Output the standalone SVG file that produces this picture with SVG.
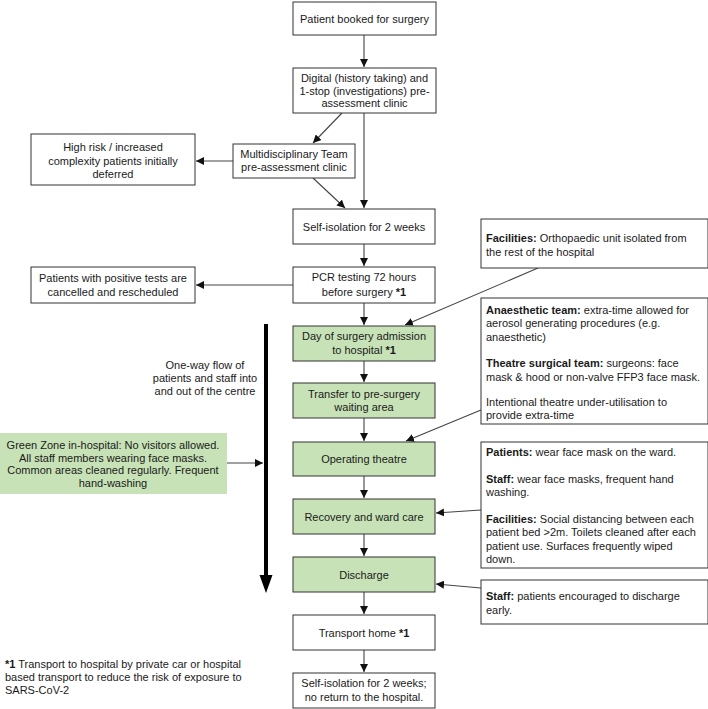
<svg xmlns="http://www.w3.org/2000/svg" width="708" height="709" viewBox="0 0 708 709">
<defs>
<style>
text{font-family:"Liberation Sans",Arial,sans-serif;font-size:11px;fill:#1a1a1a}
.c{text-anchor:middle}
.b{font-weight:bold}
.box{fill:#fff;stroke:#333;stroke-width:1}
.g{fill:#c8e2b7;stroke:#333;stroke-width:1}
.gz{fill:#c8e2b7;stroke:none}
.con{stroke:#444;stroke-width:1.1;fill:none;marker-end:url(#ah)}
</style>
<marker id="ah" markerUnits="userSpaceOnUse" markerWidth="9" markerHeight="8" refX="8" refY="4" orient="auto">
<path d="M0,0 L8,4 L0,8 Z" fill="#111"/>
</marker>
</defs>
<rect width="708" height="709" fill="#fff"/>

<g id="connectors">
<line class="con" x1="364" y1="35" x2="364" y2="67"/>
<line class="con" x1="342" y1="113" x2="313" y2="143"/>
<line class="con" x1="364" y1="113" x2="364" y2="208"/>
<line class="con" x1="233" y1="161" x2="196" y2="161"/>
<line class="con" x1="313" y1="178" x2="345" y2="208"/>
<line class="con" x1="364" y1="244" x2="364" y2="266"/>
<line class="con" x1="293" y1="285" x2="196" y2="285"/>
<line class="con" x1="364" y1="303" x2="364" y2="325"/>
<line class="con" x1="538" y1="268" x2="405" y2="325"/>
<line class="con" x1="364" y1="361" x2="364" y2="382"/>
<line class="con" x1="364" y1="418" x2="364" y2="441"/>
<line class="con" x1="481" y1="410" x2="406" y2="441"/>
<line class="con" x1="364" y1="476" x2="364" y2="498"/>
<line class="con" x1="481" y1="510" x2="436" y2="513"/>
<line class="con" x1="364" y1="534" x2="364" y2="556"/>
<line class="con" x1="481" y1="588" x2="436" y2="584"/>
<line class="con" x1="364" y1="592" x2="364" y2="614"/>
<line class="con" x1="364" y1="650" x2="364" y2="672"/>
<line class="con" x1="227" y1="463" x2="263" y2="463"/>
<line x1="266" y1="324" x2="266" y2="577" stroke="#000" stroke-width="4"/>
<path d="M259.5,575 L272.5,575 L266,593 Z" fill="#000"/>
</g>

<g id="n1"><rect class="box" x="293" y="2" width="143" height="33"/>
<text class="c" x="364.5" y="22.5">Patient booked for surgery</text></g>

<g id="n2"><rect class="box" x="293" y="68" width="143" height="45"/>
<text class="c" x="364.5" y="82">Digital (history taking) and</text>
<text class="c" x="364.5" y="94.7">1-stop (investigations) pre-</text>
<text class="c" x="364.5" y="107.3">assessment clinic</text></g>

<g id="n3"><rect class="box" x="233" y="144" width="122" height="34"/>
<text class="c" x="294" y="158">Multidisciplinary Team</text>
<text class="c" x="294" y="171.3">pre-assessment clinic</text></g>

<g id="n4"><rect class="box" x="31" y="134" width="164" height="51"/>
<text class="c" x="113" y="151.3">High risk / increased</text>
<text class="c" x="113" y="164.7">complexity patients initially</text>
<text class="c" x="113" y="178">deferred</text></g>

<g id="n5"><rect class="box" x="293" y="209" width="142" height="35"/>
<text class="c" x="364" y="231">Self-isolation for 2 weeks</text></g>

<g id="n6"><rect class="box" x="293" y="267" width="142" height="36"/>
<text class="c" x="364" y="281.3">PCR testing 72 hours</text>
<text class="c" x="364" y="295.7">before surgery <tspan class="b">*1</tspan></text></g>

<g id="n7"><rect class="box" x="31" y="267" width="164" height="36"/>
<text class="c" x="113" y="282">Patients with positive tests are</text>
<text class="c" x="113" y="295.7">cancelled and rescheduled</text></g>

<g id="n8"><rect class="g" x="293" y="326" width="142" height="35"/>
<text class="c" x="364" y="340">Day of surgery admission</text>
<text class="c" x="364" y="354">to hospital <tspan class="b">*1</tspan></text></g>

<g id="n9"><rect class="g" x="293" y="383" width="142" height="35"/>
<text class="c" x="364" y="398">Transfer to pre-surgery</text>
<text class="c" x="364" y="411">waiting area</text></g>

<g id="n10"><rect class="g" x="293" y="442" width="142" height="34"/>
<text class="c" x="364" y="463">Operating theatre</text></g>

<g id="n11"><rect class="g" x="293" y="499" width="142" height="35"/>
<text class="c" x="364" y="520.5">Recovery and ward care</text></g>

<g id="n12"><rect class="g" x="293" y="557" width="142" height="35"/>
<text class="c" x="364" y="578.5">Discharge</text></g>

<g id="n13"><rect class="box" x="293" y="615" width="142" height="35"/>
<text class="c" x="364" y="637">Transport home <tspan class="b">*1</tspan></text></g>

<g id="n14"><rect class="box" x="293" y="673" width="142" height="35"/>
<text class="c" x="364" y="687">Self-isolation for 2 weeks;</text>
<text class="c" x="364" y="701">no return to the hospital.</text></g>

<g id="greenzone"><rect class="gz" x="0" y="433" width="227" height="61"/>
<text class="c" x="113" y="449">Green Zone in-hospital: No visitors allowed.</text>
<text class="c" x="113" y="461.6">All staff members wearing face masks.</text>
<text class="c" x="113" y="474">Common areas cleaned regularly. Frequent</text>
<text class="c" x="113" y="486.6">hand-washing</text></g>

<g id="oneway">
<text class="c" x="205" y="369">One-way flow of</text>
<text class="c" x="205" y="382.3">patients and staff into</text>
<text class="c" x="205" y="394.7">and out of the centre</text></g>

<g id="facilities"><rect class="box" x="481" y="219" width="227" height="49"/>
<text x="486" y="242"><tspan class="b">Facilities:</tspan> Orthopaedic unit isolated from</text>
<text x="486" y="255.7">the rest of the hospital</text></g>

<g id="anaesthetic"><rect class="box" x="481" y="298" width="227" height="126"/>
<text x="486" y="314"><tspan class="b">Anaesthetic team:</tspan> extra-time allowed for</text>
<text x="486" y="327.3">aerosol generating procedures (e.g.</text>
<text x="486" y="340.7">anaesthetic)</text>
<text x="486" y="367.3"><tspan class="b">Theatre surgical team:</tspan> surgeons: face</text>
<text x="486" y="380.7">mask &amp; hood or non-valve FFP3 face mask.</text>
<text x="486" y="405.5">Intentional theatre under-utilisation to</text>
<text x="486" y="419">provide extra-time</text></g>

<g id="patients"><rect class="box" x="481" y="442" width="227" height="126"/>
<text x="486" y="456"><tspan class="b">Patients:</tspan> wear face mask on the ward.</text>
<text x="486" y="482.8"><tspan class="b">Staff:</tspan> wear face masks, frequent hand</text>
<text x="486" y="496.2">washing.</text>
<text x="486" y="523"><tspan class="b">Facilities:</tspan> Social distancing between each</text>
<text x="486" y="536.4">patient bed &gt;2m. Toilets cleaned after each</text>
<text x="486" y="549.8">patient use. Surfaces frequently wiped</text>
<text x="486" y="563.2">down.</text></g>

<g id="staff"><rect class="box" x="481" y="580" width="227" height="44"/>
<text x="486" y="600"><tspan class="b">Staff:</tspan> patients encouraged to discharge</text>
<text x="486" y="614">early.</text></g>

<g id="footnote">
<text x="5" y="668"><tspan class="b">*1</tspan> Transport to hospital by private car or hospital</text>
<text x="5" y="681">based transport to reduce the risk of exposure to</text>
<text x="5" y="694">SARS-CoV-2</text></g>
</svg>
